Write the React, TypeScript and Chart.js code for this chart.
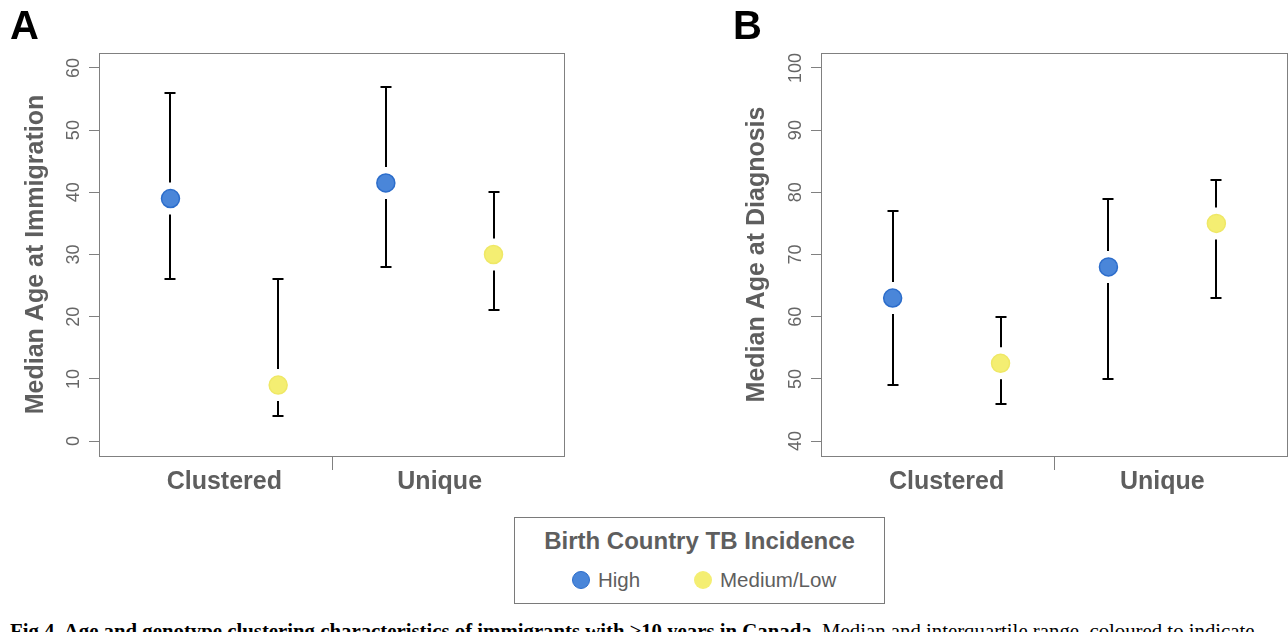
import React, { useEffect, useRef } from 'react';
import { Chart, registerables } from 'chart.js';

Chart.register(...registerables);

// ---------- data ----------
const groups = ['Clustered', 'Unique'];
const seriesNames = ['High', 'Medium/Low'];
const xHigh = [1, 3];
const xLow = [2, 4];
const groupLabelPositions = [1.5, 3.5];
const dividerPositions = [2.5];

const immHighMedian = [39, 41.5];
const immHighQ1 = [26, 28];
const immHighQ3 = [56, 57];
const immLowMedian = [9, 30];
const immLowQ1 = [4, 21];
const immLowQ3 = [26, 40];

const diagHighMedian = [63, 68];
const diagHighQ1 = [49, 50];
const diagHighQ3 = [77, 79];
const diagLowMedian = [52.5, 75];
const diagLowQ1 = [46, 63];
const diagLowQ3 = [60, 82];

const immTicks = [0, 10, 20, 30, 40, 50, 60];
const diagTicks = [40, 50, 60, 70, 80, 90, 100];

const highColor = '#4a86d9';
const highBorder = '#2c6dcb';
const lowColor = '#f4ee72';
const lowBorder = '#efe866';
const greyText = '#5e5e5e';
const axisGrey = '#808080';
const FONT = '"Liberation Sans", Arial, Helvetica, sans-serif';

type PanelProps = {
  left: number;
  width: number;
  height: number;
  yAxisWidth: number;
  rightPad: number;
  titlePad: number;
  yTitle: string;
  yTicks: number[];
  highMed: number[];
  highQ1: number[];
  highQ3: number[];
  lowMed: number[];
  lowQ1: number[];
  lowQ3: number[];
};

function Panel(p: PanelProps) {
  const ref = useRef<HTMLCanvasElement>(null);
  useEffect(() => {
    if (!ref.current) return;
    const yMin = p.yTicks[0];
    const yMax = p.yTicks[p.yTicks.length - 1];
    const ext = (yMax - yMin) * 0.04;

    const errorBars = {
      id: 'errorBars',
      beforeDatasetsDraw(chart: any) {
        const ctx = chart.ctx;
        const xs = chart.scales.x;
        const ys = chart.scales.y;
        ctx.save();
        ctx.strokeStyle = '#000';
        ctx.lineWidth = 2;
        chart.data.datasets.forEach((ds: any) => {
          ds.data.forEach((d: any) => {
            const px = Math.round(xs.getPixelForValue(d.x));
            const pm = ys.getPixelForValue(d.y);
            const p1 = Math.round(ys.getPixelForValue(d.q1));
            const p3 = Math.round(ys.getPixelForValue(d.q3));
            const gap = 16;
            const cap = 5.5;
            ctx.beginPath();
            if (p3 < pm - gap) {
              ctx.moveTo(px, p3);
              ctx.lineTo(px, pm - gap);
            }
            if (p1 > pm + gap) {
              ctx.moveTo(px, pm + gap);
              ctx.lineTo(px, p1);
            }
            ctx.moveTo(px - cap, p3);
            ctx.lineTo(px + cap, p3);
            ctx.moveTo(px - cap, p1);
            ctx.lineTo(px + cap, p1);
            ctx.stroke();
          });
        });
        ctx.restore();
      },
    };

    const frame = {
      id: 'frame',
      afterDraw(chart: any) {
        const ctx = chart.ctx;
        const a = chart.chartArea;
        ctx.save();
        ctx.strokeStyle = axisGrey;
        ctx.lineWidth = 1;
        const l = Math.round(a.left) + 0.5;
        const t = Math.round(a.top) + 0.5;
        const r = Math.round(a.right) - 0.5;
        const b = Math.round(a.bottom) + 0.5;
        ctx.strokeRect(l, t, r - l, b - t);
        ctx.fillStyle = '#666666';
        ctx.font = '18px ' + FONT;
        ctx.textAlign = 'center';
        ctx.textBaseline = 'middle';
        chart.scales.y.ticks.forEach((tk: any) => {
          const y = chart.scales.y.getPixelForValue(tk.value);
          ctx.save();
          ctx.translate(a.left - 25, y);
          ctx.rotate(-Math.PI / 2);
          ctx.fillText(String(tk.value), 0, 0);
          ctx.restore();
        });
        ctx.restore();
      },
    };

    const chart = new Chart(ref.current, {
      type: 'scatter',
      data: {
        datasets: [
          {
            label: seriesNames[0],
            data: xHigh.map((x, i) => ({ x, y: p.highMed[i], q1: p.highQ1[i], q3: p.highQ3[i] })),
            backgroundColor: highColor,
            borderColor: highBorder,
            borderWidth: 1.5,
            pointRadius: 9,
          },
          {
            label: seriesNames[1],
            data: xLow.map((x, i) => ({ x, y: p.lowMed[i], q1: p.lowQ1[i], q3: p.lowQ3[i] })),
            backgroundColor: lowColor,
            borderColor: lowBorder,
            borderWidth: 1.5,
            pointRadius: 9,
          },
        ],
      },
      options: {
        animation: false,
        responsive: false,
        maintainAspectRatio: false,
        devicePixelRatio: 1,
        events: [],
        layout: { autoPadding: false, padding: { left: 0, top: 53, right: p.rightPad, bottom: 0 } },
        plugins: { legend: { display: false }, tooltip: { enabled: false } },
        scales: {
          x: {
            type: 'linear',
            min: 0.336,
            max: 4.664,
            afterBuildTicks: (s: any) => {
              s.ticks = [...groupLabelPositions, ...dividerPositions]
                .sort((a, b) => a - b)
                .map((v) => ({ value: v }));
            },
            afterFit: (s: any) => {
              s.height = p.height - 456;
              s.paddingLeft = 0;
              s.paddingRight = 0;
            },
            border: { display: false },
            grid: {
              drawOnChartArea: false,
              drawTicks: true,
              tickLength: 14,
              lineWidth: 1,
              color: (c: any) =>
                c.tick && dividerPositions.includes(c.tick.value) ? axisGrey : 'rgba(0,0,0,0)',
            },
            ticks: {
              autoSkip: false,
              maxRotation: 0,
              minRotation: 0,
              padding: 0,
              color: greyText,
              font: { family: FONT, size: 25, weight: 'bold', lineHeight: 1 },
              callback: (v: any) => {
                const idx = groupLabelPositions.indexOf(Number(v));
                return idx >= 0 ? groups[idx] : '';
              },
            },
          },
          y: {
            type: 'linear',
            min: yMin - ext,
            max: yMax + ext,
            afterBuildTicks: (s: any) => {
              s.ticks = p.yTicks.map((v) => ({ value: v }));
            },
            afterFit: (s: any) => {
              s.width = p.yAxisWidth;
            },
            border: { display: false },
            grid: {
              drawOnChartArea: false,
              drawTicks: true,
              tickLength: 10,
              color: axisGrey,
              lineWidth: 1,
            },
            ticks: { display: false },
            title: {
              display: true,
              text: p.yTitle,
              color: greyText,
              font: { family: FONT, size: 25, weight: 'bold', lineHeight: 1.2 },
              padding: { top: p.titlePad, bottom: 0 },
            },
          },
        },
      } as any,
      plugins: [errorBars, frame],
    });
    return () => chart.destroy();
  }, []);
  return (
    <canvas
      ref={ref}
      width={p.width}
      height={p.height}
      style={{ position: 'absolute', left: p.left, top: 0, width: p.width, height: p.height }}
    />
  );
}

export default function App() {
  return (
    <div
      style={{
        position: 'absolute',
        left: 0,
        top: 0,
        width: 1288,
        height: 632,
        overflow: 'hidden',
        background: '#fff',
      }}
    >
      <Panel
        left={0}
        width={640}
        height={510}
        yAxisWidth={99}
        rightPad={75}
        titlePad={21}
        yTitle="Median Age at Immigration"
        yTicks={immTicks}
        highMed={immHighMedian}
        highQ1={immHighQ1}
        highQ3={immHighQ3}
        lowMed={immLowMedian}
        lowQ1={immLowQ1}
        lowQ3={immLowQ3}
      />
      <Panel
        left={720}
        width={568}
        height={510}
        yAxisWidth={101}
        rightPad={0}
        titlePad={22}
        yTitle="Median Age at Diagnosis"
        yTicks={diagTicks}
        highMed={diagHighMedian}
        highQ1={diagHighQ1}
        highQ3={diagHighQ3}
        lowMed={diagLowMedian}
        lowQ1={diagLowQ1}
        lowQ3={diagLowQ3}
      />
      <div
        style={{
          position: 'absolute',
          left: 10,
          top: 5,
          font: `bold 40px/1 ${FONT}`,
          color: '#000',
        }}
      >
        A
      </div>
      <div
        style={{
          position: 'absolute',
          left: 733,
          top: 5,
          font: `bold 40px/1 ${FONT}`,
          color: '#000',
        }}
      >
        B
      </div>
      <div
        style={{
          position: 'absolute',
          left: 514,
          top: 517,
          width: 369,
          height: 85,
          border: '1px solid #7a7a7a',
          fontFamily: FONT,
          color: greyText,
        }}
      >
        <div
          style={{
            position: 'absolute',
            left: 0,
            width: '100%',
            top: 9,
            textAlign: 'center',
            font: `bold 24px/1.2 ${FONT}`,
          }}
        >
          Birth Country TB Incidence
        </div>
        <div
          style={{
            position: 'absolute',
            left: 57,
            top: 53,
            width: 18,
            height: 18,
            borderRadius: '50%',
            background: highColor,
            boxSizing: 'border-box',
            border: `1.5px solid ${highBorder}`,
          }}
        />
        <div style={{ position: 'absolute', left: 83, top: 50, font: `20.5px/1.2 ${FONT}` }}>
          {seriesNames[0]}
        </div>
        <div
          style={{
            position: 'absolute',
            left: 179,
            top: 53,
            width: 18,
            height: 18,
            borderRadius: '50%',
            background: lowColor,
          }}
        />
        <div style={{ position: 'absolute', left: 205, top: 50, font: `20.5px/1.2 ${FONT}` }}>
          {seriesNames[1]}
        </div>
      </div>
      <div
        style={{
          position: 'absolute',
          left: 10,
          top: 619,
          whiteSpace: 'nowrap',
          font: `20.8px/1.2 "Liberation Serif", "Times New Roman", serif`,
          color: '#000',
        }}
      >
        <b>Fig 4. Age and genotype clustering characteristics of immigrants with ≥10 years in Canada.</b>{' '}
        Median and interquartile range, coloured to indicate
      </div>
    </div>
  );
}
